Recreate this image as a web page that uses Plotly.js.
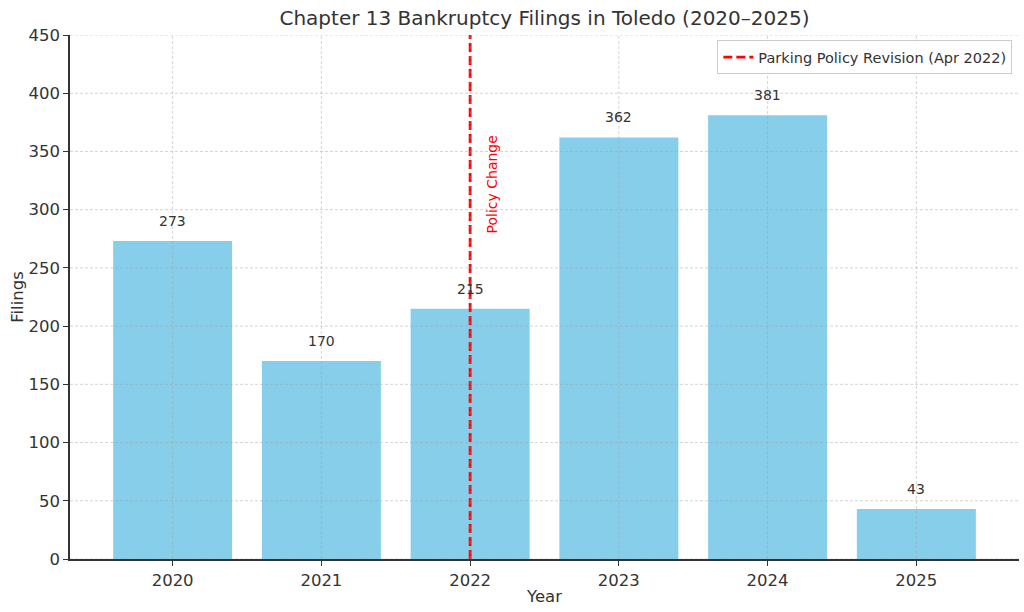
<!DOCTYPE html>
<html><head><meta charset="utf-8">
<script src="https://cdn.plot.ly/plotly-3.0.1.min.js"></script>
<style>body{margin:0;background:#fff}#chart{width:1024px;height:612px}</style>
</head><body><div id="chart"></div>
<script>
const years = ['2020','2021','2022','2023','2024','2025'];
const filings = [273, 170, 215, 362, 381, 43];
const yTicks = [0,50,100,150,200,250,300,350,400,450];
const policyYear = '2022';
const policyLabel = 'Parking Policy Revision (Apr 2022)';
const policyText = 'Policy Change';

const font = 'DejaVu Sans, sans-serif';
const policyIdx = years.indexOf(policyYear);
const traces = [
  {type:'bar', x:years, y:filings, marker:{color:'#87CEEB'}, width:0.8, showlegend:false, hoverinfo:'x+y'},
  {type:'scatter', mode:'lines', x:[policyYear, policyYear], y:[0, 450], name:policyLabel,
   line:{color:'red', width:2.8, dash:'9px,4px'}}
];
const gridLine = {color:'rgba(160,160,160,0.5)', width:0.9, dash:'3px,2px'};
const shapes = [];
yTicks.forEach(v => shapes.push({type:'line', xref:'paper', x0:0, x1:1, yref:'y', y0:v, y1:v, layer:'above', line:gridLine}));
years.forEach((c,i) => shapes.push({type:'line', xref:'x', x0:i, x1:i, yref:'paper', y0:0, y1:1, layer:'above', line:gridLine}));
const annotations = years.map((c,i) => ({x:i, xref:'x', y:filings[i], yref:'y', text:String(filings[i]), showarrow:false,
  yanchor:'bottom', yshift:10, font:{family:font, size:14, color:'#333'}}));
annotations.push({x:policyIdx + 0.15, y:322, xref:'x', yref:'y', text:policyText, textangle:-90, showarrow:false,
  font:{family:font, size:14, color:'red'}});

const layout = {
  width:1024, height:612,
  margin:{l:70, r:5, t:35, b:53},
  paper_bgcolor:'#fff', plot_bgcolor:'#fff',
  font:{family:font, color:'#333'},
  title:{text:'Chapter 13 Bankruptcy Filings in Toledo (2020–2025)', font:{family:font, size:20, color:'#333'}, xref:'paper', x:0.5, xanchor:'center', y:0.97, yanchor:'middle'},
  xaxis:{type:'category', range:[-0.69, 5.69], showgrid:false, zeroline:false,
    showline:true, linecolor:'#333', linewidth:1.5, ticks:'outside', ticklen:5, tickcolor:'#333',
    tickfont:{family:font, size:16.5, color:'#333'},
    title:{text:'Year', font:{family:font, size:16.5, color:'#333'}, standoff:2}},
  yaxis:{range:[0,450], tickvals:yTicks, showgrid:false, zeroline:false,
    showline:true, linecolor:'#333', linewidth:1.5, ticks:'outside', ticklen:5, tickcolor:'#333',
    tickfont:{family:font, size:16.5, color:'#333'},
    title:{text:'Filings', font:{family:font, size:16.5, color:'#333'}, standoff:1}},
  legend:{x:0.993, y:0.99, xanchor:'right', yanchor:'top', bgcolor:'rgba(255,255,255,0.8)',
    bordercolor:'#ccc', borderwidth:1, font:{family:font, size:14.5, color:'#333'}},
  shapes:shapes, annotations:annotations, bargap:0.2
};
Plotly.newPlot('chart', traces, layout, {displayModeBar:false});
</script></body></html>
